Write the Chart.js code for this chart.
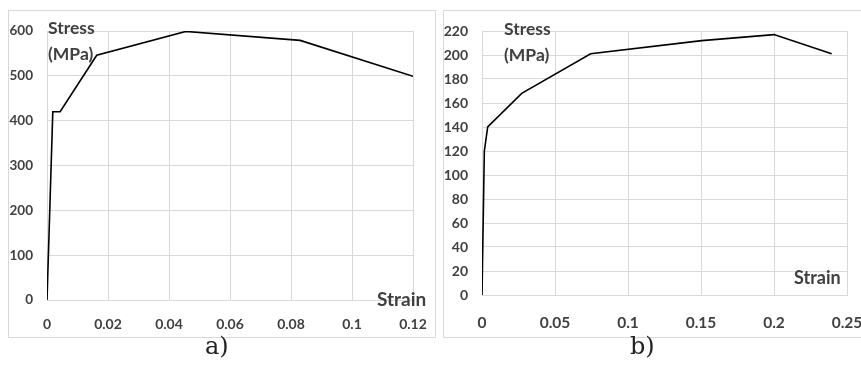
<!DOCTYPE html>
<html>
<head>
<meta charset="utf-8">
<script src="https://cdn.jsdelivr.net/npm/chart.js@4/dist/chart.umd.min.js"></script>
<style>
    html, body { margin: 0; padding: 0; background: #fff; overflow: hidden; }
    body { width: 861px; height: 378px; position: relative; }
    .panel { position: absolute; top: 10px; border: 1px solid #d9d9d9; background: #fff; }
    .panel canvas { display: block; }
    .axis-title { position: absolute; font-family: Lato, 'Open Sans', sans-serif; font-weight: bold;
        font-size: 17.5px; color: #404040; line-height: 26px; white-space: nowrap; }
    .caption { position: absolute; top: 332px; font-family: 'DejaVu Serif', 'Liberation Serif', serif;
        font-size: 24px; color: #222; }
</style>
</head>
<body>
<div class="panel" id="panelA" style="left:8px; width:426px; height:326px;">
    <canvas id="chartA" width="426" height="326"></canvas>
</div>
<div class="panel" id="panelB" style="left:443px; width:430px; height:326px;">
    <canvas id="chartB" width="430" height="326"></canvas>
</div>

<div class="axis-title" style="left:48px; top:15px;">Stress<br>(MPa)</div>
<div class="axis-title" style="left:377px; top:286px; font-size:19px;">Strain</div>
<div class="axis-title" style="left:504px; top:16px;">Stress<br>(MPa)</div>
<div class="axis-title" style="left:794px; top:264px; font-size:18px;">Strain</div>

<div class="caption" style="left:205px;">a)</div>
<div class="caption" style="left:630px;">b)</div>

<script>
// Steel curve (a)
const aStrain = [0, 0.0019, 0.0043, 0.0163, 0.0455, 0.083, 0.12];
const aStress = [0, 420, 420, 546, 599, 579, 499];
const aStrainTicks = [0, 0.02, 0.04, 0.06, 0.08, 0.1, 0.12];
const aStressTicks = [0, 100, 200, 300, 400, 500, 600];

// Aluminium curve (b)
const bStrain = [0, 0.0016, 0.0039, 0.0272, 0.0744, 0.1505, 0.2, 0.2395];
const bStress = [0, 120, 140, 168, 201, 212, 217, 201];
const bStrainTicks = [0, 0.05, 0.1, 0.15, 0.2, 0.25];
const bStressTicks = [0, 20, 40, 60, 80, 100, 120, 140, 160, 180, 200, 220];

const gridColor = '#d9d9d9';
const tickFamily = 'Lato, "Open Sans", sans-serif';

function fixedTicks(values) {
    return scale => { scale.ticks = values.map(v => ({ value: v })); };
}

// pin the axis size and drop the label overflow padding so the plot area
// is set by the layout padding alone
function fixSize(prop, size) {
    return s => {
        s[prop] = size;
        s.paddingLeft = s.paddingRight = s.paddingTop = s.paddingBottom = 0;
    };
}

function makeChart(id, xs, ys, xTicks, yTicks, opts) {
    const points = xs.map((x, i) => ({ x: x, y: ys[i] }));
    return new Chart(document.getElementById(id), {
        type: 'line',
        data: {
            datasets: [{
                data: points,
                borderColor: '#000000',
                borderWidth: 1.6,
                pointRadius: 0,
                tension: 0,
                fill: false
            }]
        },
        options: {
            responsive: false,
            animation: false,
            layout: { padding: { left: 0, right: opts.padRight, top: opts.padTop, bottom: 0 } },
            plugins: { legend: { display: false }, tooltip: { enabled: false } },
            scales: {
                x: {
                    type: 'linear',
                    min: xTicks[0],
                    max: xTicks[xTicks.length - 1],
                    afterBuildTicks: fixedTicks(xTicks),
                    afterFit: fixSize('height', opts.xHeight),
                    grid: { color: gridColor, drawTicks: false },
                    border: { color: gridColor },
                    ticks: {
                        font: { family: tickFamily, size: opts.xFont, weight: 'bold' },
                        color: '#404040', padding: opts.xPad,
                        maxRotation: 0, autoSkip: false,
                        callback: v => String(+v.toFixed(3))
                    }
                },
                y: {
                    min: yTicks[0],
                    max: yTicks[yTicks.length - 1],
                    afterBuildTicks: fixedTicks(yTicks),
                    afterFit: fixSize('width', 38),
                    grid: { color: gridColor, drawTicks: false },
                    border: { color: gridColor },
                    ticks: {
                        font: { family: tickFamily, size: opts.yFont, weight: 'bold' },
                        color: '#404040', padding: 14, autoSkip: false
                    }
                }
            }
        }
    });
}

makeChart('chartA', aStrain, aStress, aStrainTicks, aStressTicks,
    { padRight: 22, padTop: 20, xHeight: 37, xPad: 16, xFont: 14, yFont: 13.5 });
makeChart('chartB', bStrain, bStress, bStrainTicks, bStressTicks,
    { padRight: 27, padTop: 20, xHeight: 42, xPad: 19, xFont: 15.5, yFont: 14 });
</script>
</body>
</html>
